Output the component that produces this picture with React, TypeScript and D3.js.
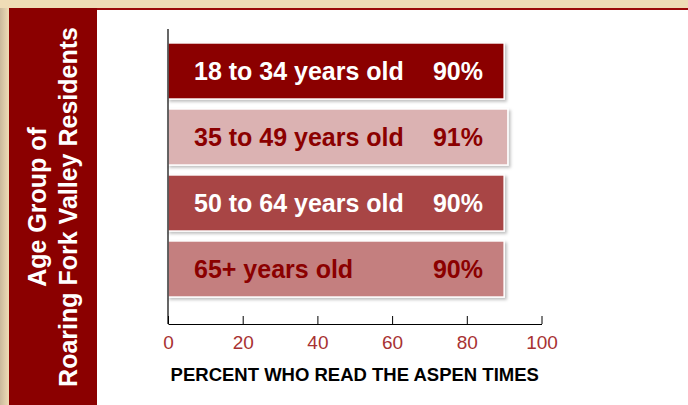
import React, { useEffect, useRef } from 'react';
import * as d3 from 'd3';

// data
const ageGroups = ['18 to 34 years old', '35 to 49 years old', '50 to 64 years old', '65+ years old'];
const percentRead = [90, 91, 90, 90];
const barColors = ['#8b0000', '#dbb2b2', '#a84444', '#c47f7f'];
const labelColors = ['#ffffff', '#8b0000', '#ffffff', '#8b0000'];
const xTicks = [0, 20, 40, 60, 80, 100];
const sideTitle = ['Age Group of', 'Roaring Fork Valley Residents'];
const xTitle = 'PERCENT WHO READ THE ASPEN TIMES';

const W = 688;
const H = 405;
const FONT = '"Liberation Sans", Arial, Helvetica, sans-serif';

export default function App() {
  const ref = useRef<SVGSVGElement>(null);

  useEffect(() => {
    const svg = d3.select(ref.current);
    svg.selectAll('*').remove();

    const defs = svg.append('defs');
    const bg = defs.append('linearGradient').attr('id', 'bg').attr('x1', 0).attr('y1', 0).attr('x2', 1).attr('y2', 0);
    bg.append('stop').attr('offset', 0).attr('stop-color', '#c9b99c');
    bg.append('stop').attr('offset', 1).attr('stop-color', '#efdcb6');
    const shadow = defs.append('filter').attr('id', 'shadow').attr('x', '-5%').attr('y', '-20%').attr('width', '115%').attr('height', '150%');
    shadow.append('feDropShadow').attr('dx', 2).attr('dy', 2).attr('stdDeviation', 1.5).attr('flood-color', '#000').attr('flood-opacity', 0.25);

    // page background, white panel, red sidebar
    svg.append('rect').attr('width', W).attr('height', H).attr('fill', '#efdcb6');
    svg.append('rect').attr('x', 0).attr('y', 8).attr('width', 9).attr('height', H - 8).attr('fill', 'url(#bg)');
    svg.append('rect').attr('x', 9).attr('y', 8).attr('width', W - 9).attr('height', H - 8).attr('fill', '#9b0a0a');
    svg.append('rect').attr('x', 97).attr('y', 10).attr('width', W - 97).attr('height', H - 10).attr('fill', '#ffffff');
    svg.append('rect').attr('x', 9).attr('y', 8).attr('width', 88).attr('height', H - 8).attr('fill', '#8b0000');

    // sidebar title, rotated
    const side = svg.append('text')
      .attr('transform', 'translate(0,207) rotate(-90)')
      .attr('text-anchor', 'middle')
      .attr('fill', '#ffffff')
      .style('font-family', FONT)
      .style('font-weight', 'bold')
      .style('font-size', '25px');
    side.append('tspan').attr('x', 0).attr('y', 46).text(sideTitle[0]);
    side.append('tspan').attr('x', 0).attr('y', 77).text(sideTitle[1]);

    // scales
    const x = d3.scaleLinear().domain([0, 100]).range([168, 541.5]);
    const y = d3.scaleBand().domain(ageGroups).range([38, 302]).paddingInner(0.15).paddingOuter(0.075);

    // bars
    const bars = svg.append('g').selectAll('g').data(ageGroups).enter().append('g');
    bars.append('rect')
      .attr('x', x(0))
      .attr('y', d => y(d) as number)
      .attr('width', (d, i) => x(percentRead[i]) - x(0))
      .attr('height', y.bandwidth())
      .attr('fill', (d, i) => barColors[i])
      .attr('stroke', '#ffffff')
      .attr('stroke-width', 1.5)
      .attr('filter', 'url(#shadow)');
    bars.append('text')
      .attr('x', x(0) + 26)
      .attr('y', d => (y(d) as number) + y.bandwidth() / 2)
      .attr('dy', '0.36em')
      .attr('fill', (d, i) => labelColors[i])
      .style('font-family', FONT)
      .style('font-weight', 'bold')
      .style('font-size', '25px')
      .text(d => d);
    bars.append('text')
      .attr('x', x(0) + 315)
      .attr('y', d => (y(d) as number) + y.bandwidth() / 2)
      .attr('dy', '0.36em')
      .attr('text-anchor', 'end')
      .attr('fill', (d, i) => labelColors[i])
      .style('font-family', FONT)
      .style('font-weight', 'bold')
      .style('font-size', '25px')
      .text((d, i) => percentRead[i] + '%');

    // axes
    svg.append('line')
      .attr('x1', x(0)).attr('x2', x(0))
      .attr('y1', 29).attr('y2', 324)
      .attr('stroke', '#000').attr('stroke-width', 1.2);

    const xAxis = d3.axisBottom(x).tickValues(xTicks).tickSizeInner(-8).tickSizeOuter(0).tickPadding(12);
    const xAxisGroup = svg.append('g').attr('transform', 'translate(0,324)').call(xAxis);
    xAxisGroup.select('.domain').attr('stroke', '#000').attr('stroke-width', 1.2);
    xAxisGroup.selectAll('.tick line').attr('stroke', '#000');
    xAxisGroup.selectAll('.tick text')
      .attr('fill', '#a83232')
      .style('font-family', FONT)
      .style('font-size', '19px');

    svg.append('text')
      .attr('x', (x(0) + x(100)) / 2)
      .attr('y', 381)
      .attr('text-anchor', 'middle')
      .attr('fill', '#000')
      .style('font-family', FONT)
      .style('font-weight', 'bold')
      .style('font-size', '18.5px')
      .text(xTitle);
  }, []);

  return (
    <svg ref={ref} width={W} height={H} style={{ position: 'absolute', left: 0, top: 0 }} />
  );
}
